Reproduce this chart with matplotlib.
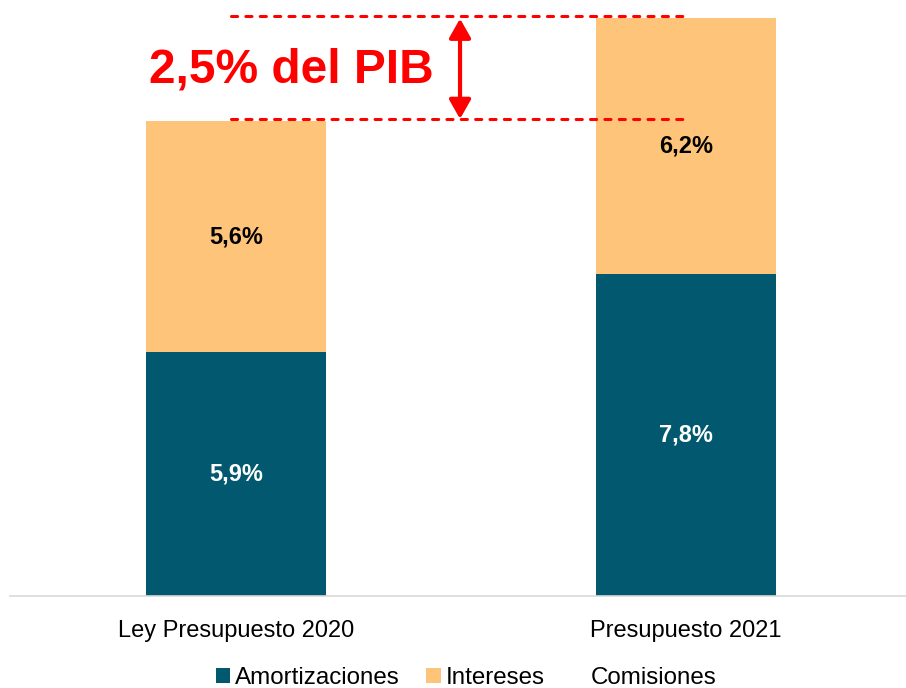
import numpy as np
import matplotlib
matplotlib.use("Agg")
import matplotlib.pyplot as plt

# data (% del PIB)
categories = ["Ley Presupuesto 2020", "Presupuesto 2021"]
amortizaciones = [5.9, 7.8]
intereses = [5.6, 6.2]
comisiones = [0.0, 0.0]

series_names = ["Amortizaciones", "Intereses", "Comisiones"]
colors = ["#02586F", "#FEC57A", "none"]
label_colors = ["white", "black", "black"]

plt.rcParams["font.family"] = ["Liberation Sans", "DejaVu Sans"]

fig = plt.figure(figsize=(9.06, 6.88), dpi=100)
ax = fig.add_axes([10 / 906, 92 / 688, 896 / 906, 596 / 688])

x = np.arange(len(categories))
width = 0.4
bottom = np.zeros(len(categories))
handles = []
for vals, name, col, lc in zip([amortizaciones, intereses, comisiones],
                               series_names, colors, label_colors):
    vals = np.array(vals)
    bars = ax.bar(x, vals, width, bottom=bottom, color=col, label=name)
    handles.append(bars)
    for xi, v, b in zip(x, vals, bottom):
        if v > 0:
            ax.text(xi, b + v / 2, f"{v:.1f}%".replace(".", ","), ha="center",
                    va="center", fontsize=17, fontweight="bold", color=lc)
    bottom = bottom + vals

totals = bottom
diff = totals[1] - totals[0]

# dashed reference lines + arrow
for t in totals:
    ax.plot([-0.01, 1.005], [t + 0.05, t + 0.05], color="#FF0000", lw=2.2,
            linestyle=(0, (2, 2.7)), dash_capstyle="round")
ax.annotate("", xy=(0.498, totals[1] - 0.02), xytext=(0.498, totals[0] + 0.05),
            arrowprops=dict(arrowstyle="<|-|>,head_length=1.15,head_width=0.65",
                            color="#FF0000", lw=3, shrinkA=0, shrinkB=0))
ax.text(0.122, (totals[0] + totals[1]) / 2 - 0.01, f"{diff:.1f}% del PIB".replace(".", ","),
        ha="center", va="center", fontsize=34.5, fontweight="bold", color="#FF0000")

ax.set_xlim(-0.502, 1.489)
ax.set_ylim(0, 596 / 41.3)
ax.set_xticks(x)
ax.set_xticklabels(categories, fontsize=17)
ax.tick_params(axis="x", length=0, pad=17)
ax.set_yticks([])
for s in ["top", "left", "right"]:
    ax.spines[s].set_visible(False)
ax.spines["bottom"].set_color("#D9D9D9")
ax.spines["bottom"].set_linewidth(1.2)

fig.legend(handles=handles, labels=series_names, loc="center",
           bbox_to_anchor=(466 / 906, 10 / 688), ncol=3, frameon=False,
           fontsize=17.4, handlelength=0.6, handleheight=0.6,
           handletextpad=0.2, columnspacing=1.1)

fig.savefig("out.png", dpi=100)
